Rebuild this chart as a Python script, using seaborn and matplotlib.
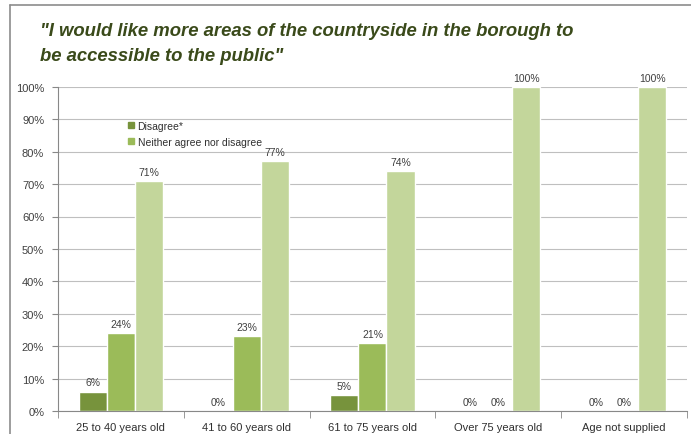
import pandas as pd
import matplotlib
matplotlib.use("Agg")
import matplotlib.pyplot as plt
import seaborn as sns
from matplotlib.lines import Line2D

# data
ages = ['25 to 40 years old', '41 to 60 years old', '61 to 75 years old',
        'Over 75 years old', 'Age not supplied']
disagree = [6, 0, 5, 0, 0]
neither = [24, 23, 21, 0, 0]
agree = [71, 77, 74, 100, 100]
responses = ['Disagree*', 'Neither agree nor disagree', 'Agree']
colors = ['#77933C', '#9BBB59', '#C3D69B']

rows = []
for resp, vals in zip(responses, [disagree, neither, agree]):
    for a, v in zip(ages, vals):
        rows.append({'age': a, 'value': v, 'response': resp})
df = pd.DataFrame(rows)

sns.set_style('white')
plt.rcParams['font.family'] = ['Liberation Sans', 'DejaVu Sans']

fig = plt.figure(figsize=(6.91, 4.35), dpi=100)
ax = fig.add_axes([0.084, 0.053, 0.910, 0.745])

sns.barplot(data=df, x='age', y='value', hue='response', order=ages,
            hue_order=responses, palette=colors, saturation=1, width=0.67,
            ax=ax, legend=False)

# value labels
for cont in ax.containers:
    labs = ['%d%%' % v for v in cont.datavalues]
    ax.bar_label(cont, labels=labs, padding=3, fontsize=7.5, color='#404040')

ax.set_ylim(0, 100)
ax.set_xlim(-0.5, 4.5)
ax.set_yticks(range(0, 101, 10))
ax.set_yticklabels(['%d%%' % t for t in range(0, 101, 10)], fontsize=8, color='#404040')
ax.yaxis.grid(True, color='#BFBFBF', linewidth=0.8)
ax.set_axisbelow(True)
ax.tick_params(axis='y', left=True, length=4, color='#888888', pad=6)
ax.set_xticks(range(len(ages)))
ax.set_xticklabels(ages, fontsize=8, color='#303030')
ax.set_xticks([x - 0.5 for x in range(len(ages) + 1)], minor=True)
ax.tick_params(axis='x', which='major', length=0, pad=8)
ax.tick_params(axis='x', which='minor', bottom=True, length=5, color='#888888')
ax.set_xlabel('')
ax.set_ylabel('')
for s in ['top', 'right']:
    ax.spines[s].set_visible(False)
for s in ['left', 'bottom']:
    ax.spines[s].set_color('#888888')
    ax.spines[s].set_linewidth(0.8)

# legend shows only two entries in the reference
handles = [Line2D([], [], marker='s', linestyle='', markersize=5, color=c)
           for c in colors[:2]]
ax.legend(handles, responses[:2], loc='upper left', bbox_to_anchor=(0.095, 0.925),
          frameon=False, fontsize=7.5, handletextpad=0.2, labelspacing=0.6,
          handlelength=0.8, labelcolor='#303030')

fig.text(0.058, 0.948, '"I would like more areas of the countryside in the borough to\nbe accessible to the public"',
         fontsize=13.3, fontweight='bold', fontstyle='italic', color='#3A4A1A',
         va='top', ha='left', linespacing=1.65)

# outer frame lines (left and top)
fig.add_artist(Line2D([0.0145, 0.0145], [0, 0.986], color='#8C8C8C', linewidth=1.2))
fig.add_artist(Line2D([0.0145, 1], [0.986, 0.986], color='#8C8C8C', linewidth=1.2))

fig.savefig('out.png', dpi=100)
